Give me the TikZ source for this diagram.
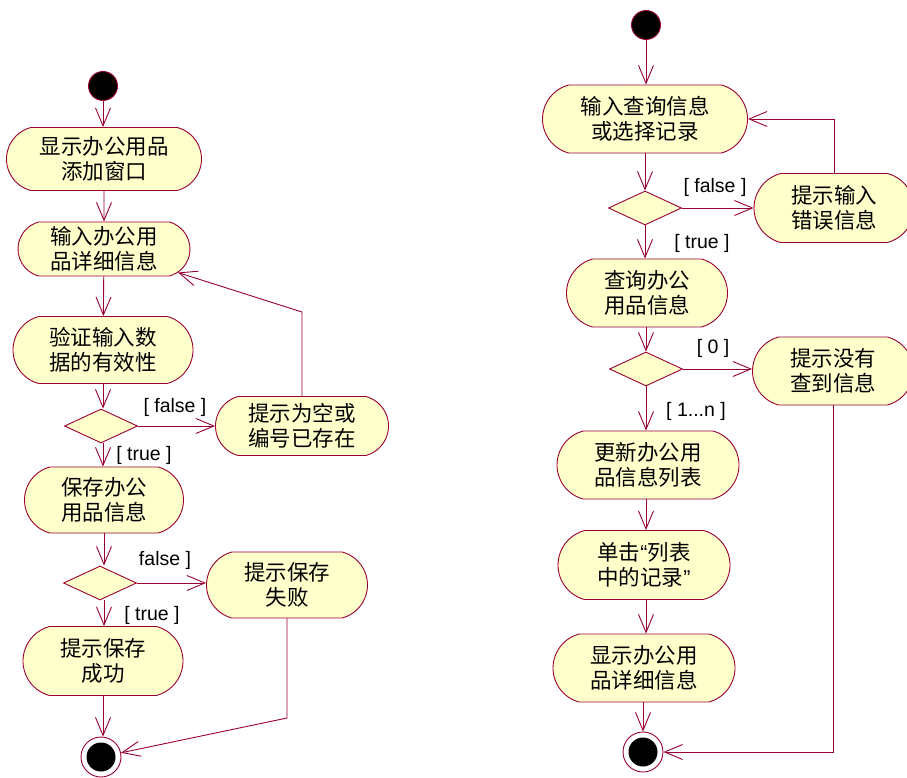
\documentclass[tikz,border=0pt]{standalone}
\usepackage{fontspec}
\usepackage{tikz}
\usetikzlibrary{arrows.meta,shapes.geometric,shapes.misc}
\newfontfamily\cjkfont{Noto Sans CJK SC}
\newfontfamily\latinfont{Liberation Sans}
\definecolor{umlred}{RGB}{153,0,51}
\definecolor{umlfill}{RGB}{255,255,204}
\newcommand{\openq}{{\latinfont “}}
\newcommand{\closeq}{{\latinfont ”}}
\tikzset{
  act/.style 2 args={rounded rectangle, rounded rectangle arc length=150,
    draw=umlred, fill=umlfill, line width=0.9pt, align=center, inner sep=0pt,
    minimum width=#1, minimum height=#2,
    font=\cjkfont\fontsize{21.5}{25}\selectfont},
  decide/.style={diamond, draw=umlred, fill=umlfill, line width=0.9pt,
    inner sep=0pt, minimum width=73pt, minimum height=34pt},
  startpt/.style={circle, draw=umlred, fill=black, line width=0.9pt,
    inner sep=0pt, minimum size=29pt},
  endpt/.style={circle, draw=umlred, fill=white, line width=0.9pt,
    inner sep=0pt, minimum size=40pt,
    path picture={\fill[black] (path picture bounding box.center) circle (14.5pt);}},
  flow/.style={draw=umlred, line width=0.9pt,
    -{Straight Barb[length=18pt,width=15pt]}},
  guard/.style={font=\latinfont\fontsize{19.5}{20}\selectfont, inner sep=0pt}
}
\begin{document}
\begin{tikzpicture}[x=1pt,y=-1pt]
  \useasboundingbox (0,0) rectangle (907,778);
  \clip (0,0) rectangle (907,778);
  % left: adding an item
  \node[startpt] (s1) at (103,86) {};
  \node[act={195pt}{63pt}] (a1) at (104,159) {显示办公用品\\添加窗口};
  \node[act={172pt}{54pt}] (a2) at (104,249) {输入办公用\\品详细信息};
  \node[act={180pt}{67pt}] (a3) at (103,350) {验证输入数\\据的有效性};
  \node[decide] (d1) at (101,426) {};
  \node[act={173pt}{59pt}] (a4) at (302,426) {提示为空或\\编号已存在};
  \node[act={159pt}{66pt}] (a5) at (104,500) {保存办公\\用品信息};
  \node[decide] (d2) at (100,583) {};
  \node[act={161pt}{66pt}] (a6) at (287,585) {提示保存\\失败};
  \node[act={160pt}{69pt}] (a7) at (103,661) {提示保存\\成功};
  \node[endpt] (e1) at (101,757) {};

  \node[guard] (g1) at (175,407) {[ false ]};
  \node[guard] (g2) at (144,455) {[ true ]};
  \node[guard] (g3) at (165,560) {false ]};
  \node[guard] (g4) at (152,615) {[ true ]};

  \coordinate (k1) at (302,312);
  \coordinate (k2) at (287,718);

  \draw[flow] (s1) -- (s1 |- a1.north);
  \draw[flow] (a1) -- (a2);
  \draw[flow] (a2) -- (a3);
  \draw[flow] (a3.south) -- (a3.south |- d1.north);
  \draw[flow] (d1.south -| a3.south) -- (a3.south |- a5.north);
  \draw[flow] (d1.east) -- (a4.west |- d1.east);
  \draw[flow] (a4.north) -- (k1) -- (a2);
  \draw[flow] (a5.south) -- (a5.south |- d2.north);
  \draw[flow] (d2.south -| a5.south) -- (a5.south |- a7.north);
  \draw[flow] (d2.east) -- (a6.west |- d2.east);
  \draw[flow] (a6.south) -- (k2) -- (e1);
  \draw[flow] (a7.south) -- (a7.south |- e1.north);

  % right: looking up an item
  \node[startpt] (s2) at (646,25) {};
  \node[act={205pt}{68pt}] (b1) at (645,119) {输入查询信息\\或选择记录};
  \node[decide] (d3) at (645,208) {};
  \node[act={160pt}{69pt}] (b2) at (834,208) {提示输入\\错误信息};
  \node[act={161pt}{68pt}] (b3) at (647,293) {查询办公\\用品信息};
  \node[decide] (d4) at (646,369) {};
  \node[act={161pt}{68pt}] (b4) at (833,371) {提示没有\\查到信息};
  \node[act={182pt}{68pt}] (b5) at (648,465) {更新办公用\\品信息列表};
  \node[act={172pt}{69pt}] (b6) at (644,565) {单击\openq 列表\\中的记录\closeq};
  \node[act={182pt}{68pt}] (b7) at (644,668) {显示办公用\\品详细信息};
  \node[endpt] (e2) at (643,752) {};

  \node[guard] (g5) at (715,187) {[ false ]};
  \node[guard] (g6) at (702,243) {[ true ]};
  \node[guard] (g7) at (713,348) {[ 0 ]};
  \node[guard] (g8) at (696,411) {[ 1...n ]};

  \draw[flow] (s2) -- (s2 |- b1.north);
  \draw[flow] (b1.south -| d3) -- (d3.north);
  \draw[flow] (d3.east) -- (b2.west |- d3.east);
  \draw[flow] (b2.north) |- (b1.east);
  \draw[flow] (d3.south) -- (d3.south |- b3.north);
  \draw[flow] (b3.south -| d4) -- (d4.north);
  \draw[flow] (d4.east) -- (b4.west |- d4.east);
  \draw[flow] (d4.south) -- (d4.south |- b5.north);
  \draw[flow] (b5.south -| d4) -- (d4 |- b6.north);
  \draw[flow] (b6.south -| d4) -- (d4 |- b7.north);
  \draw[flow] (b7.south -| e2) -- (e2.north);
  \draw[flow] (b4.south) |- (e2.east);
\end{tikzpicture}
\end{document}
